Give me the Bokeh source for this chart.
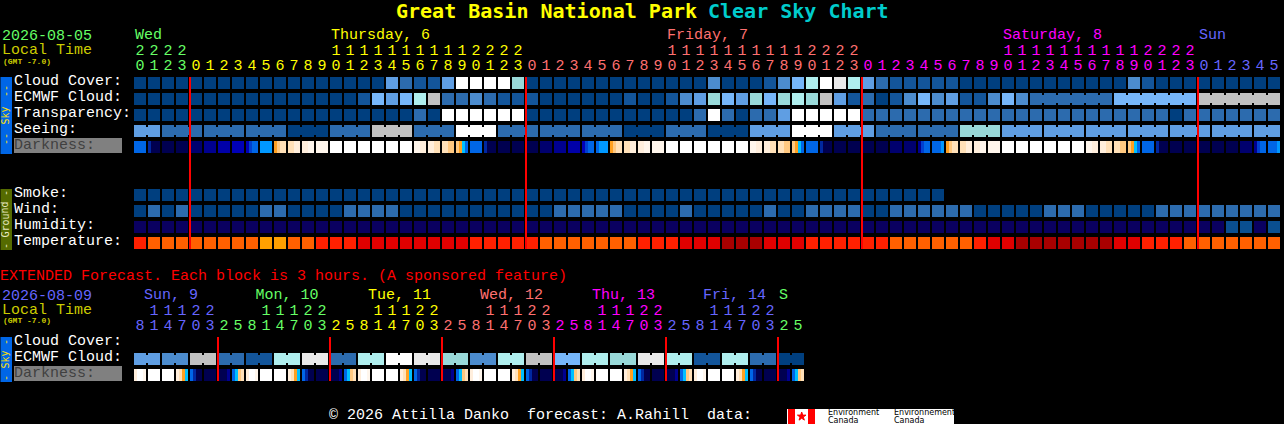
from bokeh.plotting import figure
from bokeh.models import ColumnDataSource
from bokeh.core.properties import value
from bokeh.embed import file_html
from bokeh.resources import INLINE

TITLE_PLACE = "Great Basin National Park"
TITLE_CHART = "Clear Sky Chart"

# ---- hourly chart data: one entry per hour block (start 20h Wed) ----
TENS  = ["2","2","2","2"] + [""]*10 + list("1111111111") + list("2222") + [""]*10 + list("1111111111") + list("2222") + [""]*10 + list("1111111111") + list("2222") + [""]*6
UNITS = list("0123") + list("012345678901234567890123") + list("012345678901234567890123") + list("012345678901234567890123") + list("012345")
HOUR_COLOR_BREAKS = [0, 4, 28, 52, 76]
HOUR_COLORS = ["#66FF66", "#FFFF00", "#FF7070", "#FF00FF", "#6666FF"]
DAY_LABELS = ["Wed", "Thursday, 6", "Friday, 7", "Saturday, 8", "Sun"]
DAY_LABEL_COLS = [0, 14, 38, 62, 76]
MIDNIGHT_COLS = [4, 28, 52, 76]

CLOUD = [0]*18 + [4,2,1,1,4,10,10,10,10,6] + [0]*13 + [3,0,0,0,1,3,5,7,10,9,7,4,2,1,1,1,1,1] + [0]*12 + [3,1] + [0]*9
ECMWF = [0]*16 + [1,5,4,5,7,8,2,2,3,2,1,1,1,0,0,0,0,0,0,1,0,0,1,3,4,6,5,4,6,5,6,7,6,8,4,1,2,0,1,3,5,3,4,1,1,3,5,3] + [2]*6 + [5]*6 + [8]*6
ECMWF_GROUP_STARTS = [64, 70, 76]
TRANSP = [0]*20 + [2,0,10,10,10,10,10,10] + [0]*12 + [2,10,2,0,2,2,4,10,10,10,10,10] + [2]*22 + [0,2] + [2]*6
SEEING = [4,4] + [2]*9 + [0]*3 + [2]*3 + [8]*3 + [2]*3 + [10]*3 + [2]*9 + [0]*3 + [2]*3 + [0]*3 + [4]*3 + [10]*3 + [4]*3 + [2]*6 + [6]*3 + [4]*20
SEEING_GROUP_STARTS = [0, 2, 5, 8, 11, 14, 17, 20, 23, 26, 29, 32, 35, 38, 41, 44, 47, 50, 53, 56, 59, 62, 65, 68, 71, 74, 77, 80]
DARKNESS = [
 "BBBB","RNNN","NNNN","NNNN","MMMM","OOOO","PPPP","QQQQ","QSBB","CCCC","EFGG","GGHH","HHII","IIII",
 "WWWW","WWWW","WWWW","WWWW","WWWW","WWWW","IIHH","HHGG","GGFF","FEDB",
 "BBBB","RNNN","NNNN","NNNN","NNNN","MMMM","OOOO","PPPP","QSBB","BCCC","EFGG","GGHH","HHII","IIII",
 "WWWW","WWWW","WWWW","WWWW","WWWW","WWWW","IIHH","HHGG","GGFF","FEDB",
 "BBBB","RNNN","NNNN","NNNN","NNNN","NNNN","MMMM","MMMM","OSBB","BBBC","EFGG","GGHH","HHII","IIII",
 "WWWW","WWWW","WWWW","WWWW","WWWW","WWWW","IIHH","HHGG","GGFF","FEDB",
 "BBBB","RNNN","NNNN","NNNN","NNNN","NNNN","NNNN","MMMM","OSBB","BBBC",
]
SMOKE = [0]*58
WIND = [0,2,0,2,0,0,0,0,0,2,2,0,0,0,0,2,2,2,2,0,0,0,0,0,0,0,0,0,0,0,2,2,2,2,2,0,0,0,0,2,0,0,0,0,0,2,0,0,2,2,2,2,
        0,0,2,2,2,2,2,2,0,0,0,0,0,2,2,2,0,0,0,0,0,2,2,2,2,2,2,2,2,2]
HUMIDITY = [0]*78 + [1,1,0,1]
TEMPERATURE = list("abbbbbbbbccbbaaadddddddd" "aaaaabbbbbbbaaadddeeeddd" "aaaaaabbbbbbaddeeeeeeedd" "aaabbbbbbb")

# ---- extended chart data ----
EXT_TENS = (["","1","1","1","2","2","",""]*6)
EXT_UNITS = list("81470325"*6)
EXT_COLOR_BREAKS = [0, 6, 14, 22, 30, 38, 46]
EXT_COLORS = ["#6666FF", "#66FF66", "#FFFF00", "#FF7070", "#FF00FF", "#6666FF", "#66FF66"]
EXT_DAY_LABELS = ["Sun, 9", "Mon, 10", "Tue, 11", "Wed, 12", "Thu, 13", "Fri, 14", "S"]
EXT_DAY_X = [144, 255.5, 368, 480, 592, 703, 779]
EXT_MIDNIGHT_COLS = [6, 14, 22, 30, 38, 46]
EXT_ECMWF = [4,3,8,2,1,7,9,2,7,10,9,6,3,7,8,5,7,6,9,7,1,7,2,0]
EXT_DARKNESS = ["HWWI","WWWW","WWWW","HGED","BRNN","NNNN","NNNO","BDFG"]*6

# ---- colour scales ----
CLOUD_COLORS = ["#003F7F","#13559A","#2C6BAE","#4C8CCE","#5F9EE3","#76B6F9","#99D9D9","#AFEEEE","#C1C1C1","#E9E9E9","#FFFFFF"]
HUMIDITY_COLORS = ["#0A0060", "#0A4F90"]
TEMP_COLORS = {"a":"#FF2000","b":"#FF6000","c":"#FFA000","d":"#E00000","e":"#A80000"}
DARK_COLORS = {"N":"#000050","M":"#00006E","O":"#000090","P":"#0000A8","Q":"#0000B8","R":"#0028A0","S":"#0040D0",
               "B":"#0066E6","C":"#0098FF","D":"#00C0FF","E":"#FFA020","F":"#FFC880","G":"#FFE0B8","H":"#FFEEDC","I":"#FFF6EC","W":"#FFFFFF"}

X0, PITCH, CELL = 134, 14, 12
ROW_Y = {"cloud":77,"ecmwf":93,"transp":109,"seeing":125,"dark":141,"smoke":189,"wind":205,"hum":221,"temp":237,
         "x_ecmwf":353,"x_dark":369}
MONO = "Liberation Mono"
BOLD_MONO = "DejaVu Sans Mono"

p = figure(width=1284, height=424, x_range=(0.5,1284.5), y_range=(424.5,0.5), output_backend="svg",
           toolbar_location=None, background_fill_color="#000000", border_fill_color="#000000",
           outline_line_color=None, min_border=0, min_border_left=0, min_border_right=0,
           min_border_top=0, min_border_bottom=0, x_axis_location=None, y_axis_location=None)
p.grid.visible = False
p.styles = {"position":"fixed","left":"0px","top":"0px","background-color":"#000000"}

def blocks(levels, row, palette):
    y = ROW_Y[row]
    src = ColumnDataSource(dict(
        l=[X0+PITCH*i for i in range(len(levels))],
        r=[X0+PITCH*i+CELL for i in range(len(levels))],
        t=[y]*len(levels), b=[y+CELL]*len(levels),
        c=[palette[v] for v in levels]))
    p.quad(left="l", right="r", top="t", bottom="b", fill_color="c", line_color=None, source=src)

def links(levels, row, palette, same_group):
    y = ROW_Y[row]
    idx = [i for i in range(len(levels)-1) if same_group(i)]
    src = ColumnDataSource(dict(
        l=[X0+PITCH*i+CELL for i in idx], r=[X0+PITCH*i+PITCH for i in idx],
        t=[y+2]*len(idx), b=[y+CELL-2]*len(idx), c=[palette[levels[i]] for i in idx]))
    p.quad(left="l", right="r", top="t", bottom="b", fill_color="c", line_color=None, source=src)

def strips(cells, row):
    y = ROW_Y[row]
    l, r, c = [], [], []
    for i, s in enumerate(cells):
        for j, ch in enumerate(s):
            l.append(X0+PITCH*i+j*CELL/len(s)); r.append(X0+PITCH*i+(j+1)*CELL/len(s)); c.append(DARK_COLORS[ch])
    p.quad(left=l, right=r, top=[y]*len(l), bottom=[y+CELL]*len(l), fill_color=c, line_color=None)

blocks(CLOUD,"cloud",CLOUD_COLORS)
blocks(ECMWF,"ecmwf",CLOUD_COLORS)
links(ECMWF,"ecmwf",CLOUD_COLORS,lambda i: i>=64 and (i+1) not in ECMWF_GROUP_STARTS)
blocks(TRANSP,"transp",CLOUD_COLORS)
blocks(SEEING,"seeing",CLOUD_COLORS)
links(SEEING,"seeing",CLOUD_COLORS,lambda i: (i+1) not in SEEING_GROUP_STARTS)
strips(DARKNESS,"dark")
blocks(SMOKE,"smoke",CLOUD_COLORS)
blocks(WIND,"wind",CLOUD_COLORS)
blocks(HUMIDITY,"hum",HUMIDITY_COLORS)
blocks(TEMPERATURE,"temp",TEMP_COLORS)

x_ec = [v for v in EXT_ECMWF for _ in range(2)]
blocks(x_ec,"x_ecmwf",CLOUD_COLORS)
links(x_ec,"x_ecmwf",CLOUD_COLORS,lambda i: i%2==0)
strips(EXT_DARKNESS,"x_dark")

# red midnight lines
p.quad(left=[X0+PITCH*c-1 for c in MIDNIGHT_COLS], right=[X0+PITCH*c+1 for c in MIDNIGHT_COLS],
       top=77, bottom=249, fill_color="#FF0000", line_color=None)
p.quad(left=[X0+PITCH*c-1 for c in EXT_MIDNIGHT_COLS], right=[X0+PITCH*c+1 for c in EXT_MIDNIGHT_COLS],
       top=337, bottom=381, fill_color="#FF0000", line_color=None)

# side bars and label boxes
p.quad(left=[0,0,0], right=[12,12,12], top=[77,189,337], bottom=[154,250,382],
       fill_color=["#0066E6","#556B00","#0066E6"], line_color=None)
p.quad(left=[14,14], right=[122,122], top=[138,366], bottom=[153,381], fill_color="#808080", line_color=None)

def txt(xs, ys, ss, colors, size, align="left", style="normal", font=MONO, angle=0, baseline="alphabetic"):
    if isinstance(colors,str): colors=[colors]*len(ss)
    if angle == 0:
        dy = 5 if size == 15 else 0.4*size
        ys = [y-dy for y in ys]
    else:
        xs = [x-0.4*size for x in xs]
    src = ColumnDataSource(dict(x=xs,y=ys,t=ss,c=colors))
    p.text(x="x",y="y",text="t",text_color="c",source=src,text_font=value(font),
           text_font_size=value(f"{size}px"),text_align=align,text_baseline=baseline,
           text_font_style=style,angle=angle)

# title
txt([396],[19],[TITLE_PLACE],"#FFFF00",20,style="bold",font=BOLD_MONO)
txt([708],[19],[TITLE_CHART],"#00CCCC",20,style="bold",font=BOLD_MONO)

def color_for(i, breaks, colors):
    c = colors[0]
    for b, col in zip(breaks, colors):
        if i >= b: c = col
    return c

# hourly header
txt([2],[40],["2026-08-05"],HOUR_COLORS[0],15)
txt([2],[55],["Local Time"],"#CCCC00",15)
txt([3],[65],["(GMT -7.0)"],"#CCCC00",8,style="bold")
txt([X0+PITCH*c+1 for c in DAY_LABEL_COLS],[40]*5,DAY_LABELS,HOUR_COLORS,15)
cs=[color_for(i,HOUR_COLOR_BREAKS,HOUR_COLORS) for i in range(len(UNITS))]
xc=[X0+PITCH*i+6 for i in range(len(UNITS))]
txt(xc,[70]*len(UNITS),UNITS,cs,15,align="center")
tens_idx=[i for i,t in enumerate(TENS) if t]
txt([xc[i] for i in tens_idx],[55]*len(tens_idx),[TENS[i] for i in tens_idx],[cs[i] for i in tens_idx],15,align="center")

# row labels
txt([14]*9,[86,102,118,134,150,198,214,230,246],
    ["Cloud Cover:","ECMWF Cloud:","Transparency:","Seeing:","Darkness:","Smoke:","Wind:","Humidity:","Temperature:"],
    ["#FFFFFF"]*4+["#404040"]+["#FFFFFF"]*4,15)

# extended
txt([0],[281],["EXTENDED Forecast. Each block is 3 hours. (A sponsored feature)"],"#FF0000",15)
txt([2],[300],["2026-08-09"],EXT_COLORS[0],15)
txt([2],[315],["Local Time"],"#CCCC00",15)
txt([3],[324],["(GMT -7.0)"],"#CCCC00",8,style="bold")
txt(EXT_DAY_X,[300]*7,EXT_DAY_LABELS,EXT_COLORS,15)
ecs=[color_for(i,EXT_COLOR_BREAKS,EXT_COLORS) for i in range(len(EXT_UNITS))]
exc=[X0+PITCH*i+6 for i in range(len(EXT_UNITS))]
txt(exc,[330]*len(EXT_UNITS),EXT_UNITS,ecs,15,align="center")
et=[i for i,t in enumerate(EXT_TENS) if t]
txt([exc[i] for i in et],[315]*len(et),[EXT_TENS[i] for i in et],[ecs[i] for i in et],15,align="center")
txt([14]*3,[346,362,378],["Cloud Cover:","ECMWF Cloud:","Darkness:"],["#FFFFFF","#FFFFFF","#404040"],15)

# side-bar texts (rotated)
ROT=1.5708
txt([9,9,9],[115.5,91,139],["Sky","--","--"],"#FFE000",10,align="center",angle=ROT,font=BOLD_MONO)
txt([9,9,9],[219.5,193,246],["Ground","-","-"],"#E8E8C0",10,align="center",angle=ROT,font=BOLD_MONO)
txt([9,9,9],[359.5,342,378],["Sky","-","-"],"#FFE000",10,align="center",angle=ROT,font=BOLD_MONO)

# footer
txt([329],[420],["\u00a9 2026 Attilla Danko\u00a0\u00a0forecast: A.Rahill\u00a0\u00a0data:"],"#FFFFFF",15)
p.quad(left=[787],right=[954],top=[409],bottom=[424],fill_color="#FFFFFF",line_color=None)
p.quad(left=[788,808],right=[795,815],top=[409,409],bottom=[424,424],fill_color="#FF0000",line_color=None)
p.scatter(x=[801.7],y=[416.5],size=9,marker="star",fill_color="#FF0000",line_color="#FF0000")
txt([828,828,894,894],[416,423.5,416,423.5],["Environment","Canada","Environnement","Canada"],"#000000",8,font="DejaVu Sans")

open("out.html","w").write(file_html(p, INLINE))
